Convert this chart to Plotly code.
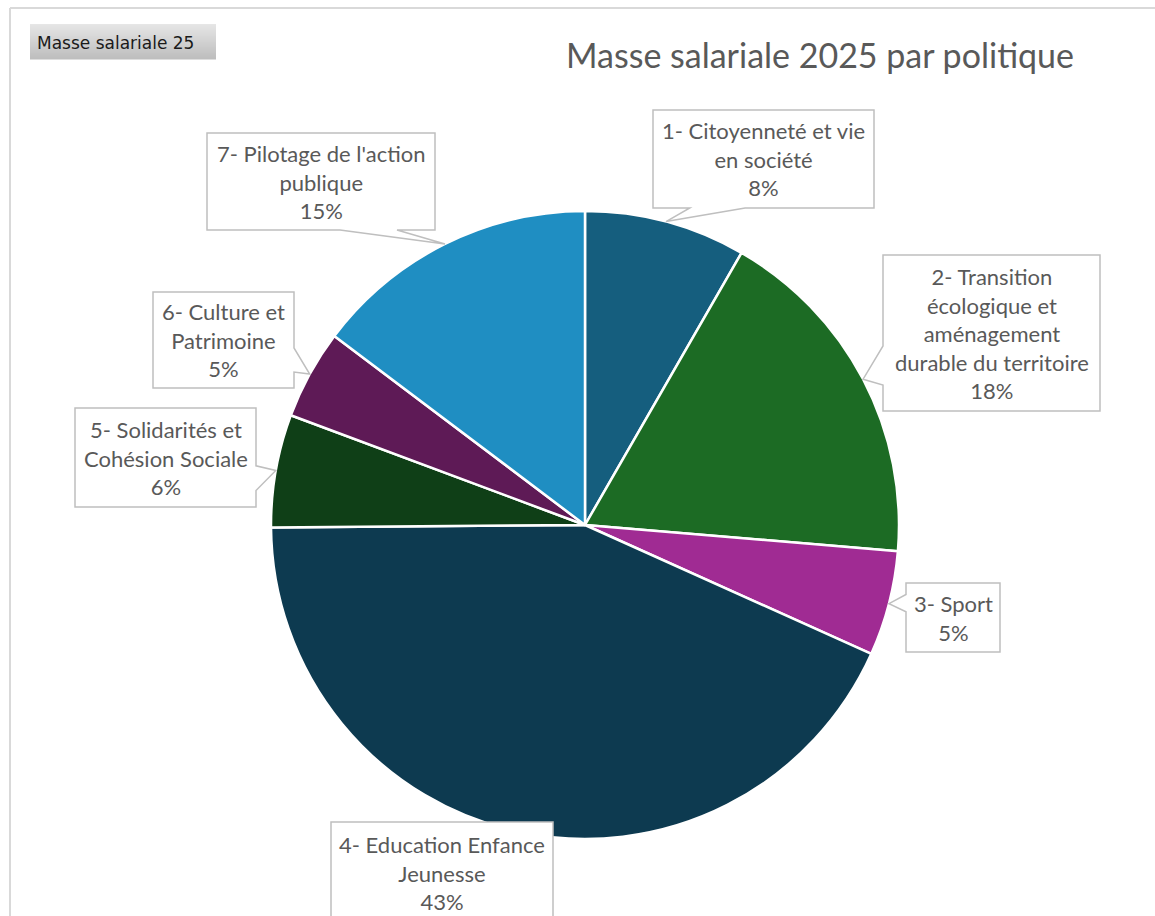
import math
import plotly.graph_objects as go

# Payroll 2025 share by policy area (percent of total)
categories = [
    "1- Citoyenneté et vie<br>en société",
    "2- Transition<br>écologique et<br>aménagement<br>durable du territoire",
    "3- Sport",
    "4- Education Enfance<br>Jeunesse",
    "5- Solidarités et<br>Cohésion Sociale",
    "6- Culture et<br>Patrimoine",
    "7- Pilotage de l'action<br>publique",
]
shares = [8.3, 18.0, 5.4, 43.1, 5.8, 4.6, 14.7]
colors = ["#155E7E", "#1C6B24", "#A02B93", "#0D3A50", "#0F3F17", "#5E1A56", "#1F8EC2"]

W, H = 1155, 916
CX, CY, R = 585, 525, 314  # pie centre and radius, in pixels

# Callout boxes (left, top, right, bottom) in pixels
boxes = [
    (653, 110, 874, 208),
    (883, 255, 1100, 411),
    (906, 583, 1000, 652),
    (331, 822, 553, 924),
    (75, 408, 256, 507),
    (153, 292, 294, 388),
    (207, 133, 435, 230),
]

TEXT_COLOR = "#595959"
BOX_LINE = "#BFBFBF"

fig = go.Figure()

fig.add_trace(go.Pie(
    labels=categories,
    values=shares,
    sort=False,
    direction="clockwise",
    rotation=0,
    marker=dict(colors=colors, line=dict(color="white", width=2.5)),
    textinfo="none",
    hoverinfo="label+percent",
    showlegend=False,
    domain=dict(x=[(CX - R) / W, (CX + R) / W],
                y=[(H - CY - R) / H, (H - CY + R) / H]),
))

# invisible pixel-space axes for the callouts and decorations
fig.add_trace(go.Scatter(x=[None], y=[None], showlegend=False, hoverinfo="skip"))


def callout_path(box, tip):
    """Rectangle with a wedge pointing at tip (same rules as a wedge callout)."""
    l, t, r, b = box
    w, h = r - l, b - t
    hc, vc = (l + r) / 2, (t + b) / 2
    tx, ty = tip
    dx, dy = tx - hc, ty - vc
    inside = l <= tx <= r and t <= ty <= b
    if inside:
        return f"M{l},{t} L{r},{t} L{r},{b} L{l},{b} Z"
    dq = dx * h / w
    xg1, xg2 = (7, 10) if dx > 0 else (2, 5)
    yg1, yg2 = (7, 10) if dy > 0 else (2, 5)
    x1, x2 = l + w * xg1 / 12, l + w * xg2 / 12
    y1, y2 = t + h * yg1 / 12, t + h * yg2 / 12
    if abs(dy) - abs(dq) > 0:
        if dy < 0:  # wedge on top
            pts = [(l, t), (x1, t), (tx, ty), (x2, t), (r, t), (r, b), (l, b)]
        else:       # wedge on bottom
            pts = [(l, t), (r, t), (r, b), (x2, b), (tx, ty), (x1, b), (l, b)]
    else:
        if dx < 0:  # wedge on left
            pts = [(l, t), (r, t), (r, b), (l, b), (l, y2), (tx, ty), (l, y1)]
        else:       # wedge on right
            pts = [(l, t), (r, t), (r, y1), (tx, ty), (r, y2), (r, b), (l, b)]
    return "M" + " L".join(f"{x:.1f},{y:.1f}" for x, y in pts) + " Z"


total = sum(shares)
shapes = []
annotations = []
cum = 0.0
for cat, val, box in zip(categories, shares, boxes):
    mid = (cum + val / 2) / total * 2 * math.pi
    cum += val
    tip = (CX + R * math.sin(mid), CY - R * math.cos(mid))
    shapes.append(dict(type="path", path=callout_path(box, tip), xref="x", yref="y",
                       line=dict(color=BOX_LINE, width=1.5), fillcolor="white", layer="above"))
    l, t, r, b = box
    pct = round(val / total * 100)
    annotations.append(dict(x=(l + r) / 2, y=(t + b) / 2, xref="x", yref="y",
                            text=f"{cat}<br>{pct}%", showarrow=False,
                            font=dict(family="Lato", size=22, color=TEXT_COLOR),
                            align="center", xanchor="center", yanchor="middle"))

# chart frame (top and left edges)
shapes.append(dict(type="line", xref="x", yref="y", x0=10, y0=8, x1=W, y1=8,
                   line=dict(color="#D9D9D9", width=2)))
shapes.append(dict(type="line", xref="x", yref="y", x0=10, y0=8, x1=10, y1=H,
                   line=dict(color="#D9D9D9", width=2)))

# grey gradient button in the corner
bl, bt, br, bb = 30, 24, 216, 59
steps = 35
for i in range(steps):
    f = i / (steps - 1)
    g = int(230 - (230 - 190) * f)
    y0 = bt + (bb - bt) * i / steps
    y1 = bt + (bb - bt) * (i + 1) / steps + 0.5
    shapes.append(dict(type="rect", xref="x", yref="y", x0=bl, x1=br, y0=y0, y1=y1,
                       line=dict(width=0), fillcolor=f"rgb({g},{g},{g})", layer="above"))
annotations.append(dict(x=bl + 5, y=(bt + bb) / 2 + 1, xref="x", yref="y",
                        text="Masse salariale 25", showarrow=False,
                        xanchor="left", yanchor="middle",
                        font=dict(family="DejaVu Sans", size=17, color="#1A1A1A")))

# title
annotations.append(dict(x=820, y=54, xref="x", yref="y",
                        text="Masse salariale 2025 par politique", showarrow=False,
                        xanchor="center", yanchor="middle",
                        font=dict(family="Lato", size=34, color=TEXT_COLOR)))

fig.update_layout(
    width=W, height=H,
    margin=dict(l=0, r=0, t=0, b=0),
    paper_bgcolor="white", plot_bgcolor="rgba(0,0,0,0)",
    xaxis=dict(range=[0, W], visible=False, fixedrange=True),
    yaxis=dict(range=[H, 0], visible=False, fixedrange=True),
    shapes=shapes,
    annotations=annotations,
    showlegend=False,
)

fig.write_html("out.html")
